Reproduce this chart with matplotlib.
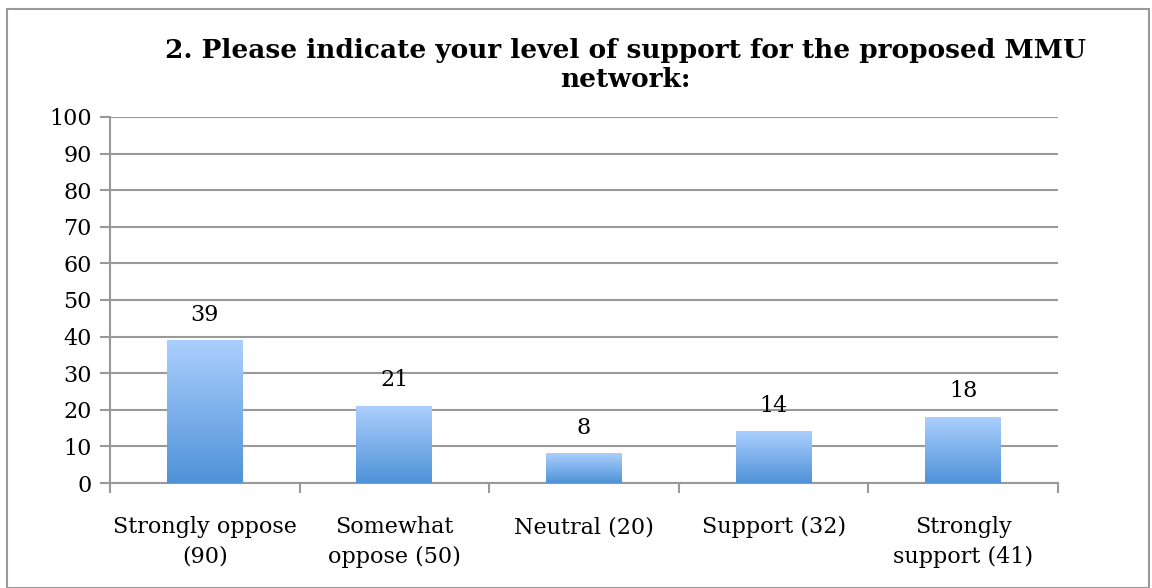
import numpy as np
import matplotlib
matplotlib.use('Agg')
import matplotlib.pyplot as plt
from matplotlib.colors import LinearSegmentedColormap
from matplotlib.patches import Rectangle

# survey answers, percentage of respondents
categories = ['Strongly oppose\n(90)', 'Somewhat\noppose (50)', 'Neutral (20)',
              'Support (32)', 'Strongly\nsupport (41)']
percent = [39, 21, 8, 14, 18]

plt.rcParams['font.family'] = ['DejaVu Serif']

fig = plt.figure(figsize=(11.52, 5.88), dpi=100)
ax = fig.add_axes([110 / 1152, 1 - 483 / 588, 948 / 1152, 366 / 588])

grad = LinearSegmentedColormap.from_list('bar', ['#4f92d8', '#abcffd'])
x = np.arange(len(categories))
width = 0.4
bars = ax.bar(x, percent, width, color='none', zorder=3)
gimg = np.linspace(0, 1, 256).reshape(-1, 1)
for b in bars:
    x0, y0 = b.get_x(), b.get_y()
    ax.imshow(gimg, cmap=grad, origin='lower', aspect='auto', zorder=3,
              extent=[x0, x0 + b.get_width(), y0, y0 + b.get_height()])
    ax.text(b.get_x() + b.get_width() / 2, b.get_height() + 4, str(int(b.get_height())),
            ha='center', va='bottom', fontsize=16)

ax.set_xlim(-0.5, len(categories) - 0.5)
ax.set_ylim(0, 100)
ax.set_yticks(range(0, 101, 10))
ax.set_xticks(x)
ax.set_xticklabels(categories, fontsize=16, linespacing=1.45)
ax.set_xticks(np.arange(-0.5, len(categories), 1), minor=True)
ax.tick_params(axis='x', which='major', length=0, pad=24)
ax.tick_params(axis='x', which='minor', length=7, width=1.5, color='#999999', direction='out')
ax.tick_params(axis='y', length=7, width=1.5, color='#999999', labelsize=16, pad=6)
ax.grid(axis='y', color='#999999', linewidth=1.5, zorder=0)
ax.set_axisbelow(True)
for s in ['top', 'right']:
    ax.spines[s].set_visible(False)
for s in ['left', 'bottom']:
    ax.spines[s].set_color('#999999')
    ax.spines[s].set_linewidth(1.5)

fig.text(0.543, 0.935, '2. Please indicate your level of support for the proposed MMU\nnetwork:',
         ha='center', va='top', fontsize=19, fontweight='bold', linespacing=1.2)

fig.add_artist(Rectangle((7 / 1152, 0), 1142 / 1152, 1 - 9 / 588, transform=fig.transFigure,
                         fill=False, edgecolor='#999999', linewidth=1.5))

fig.savefig('out.png', dpi=100)
